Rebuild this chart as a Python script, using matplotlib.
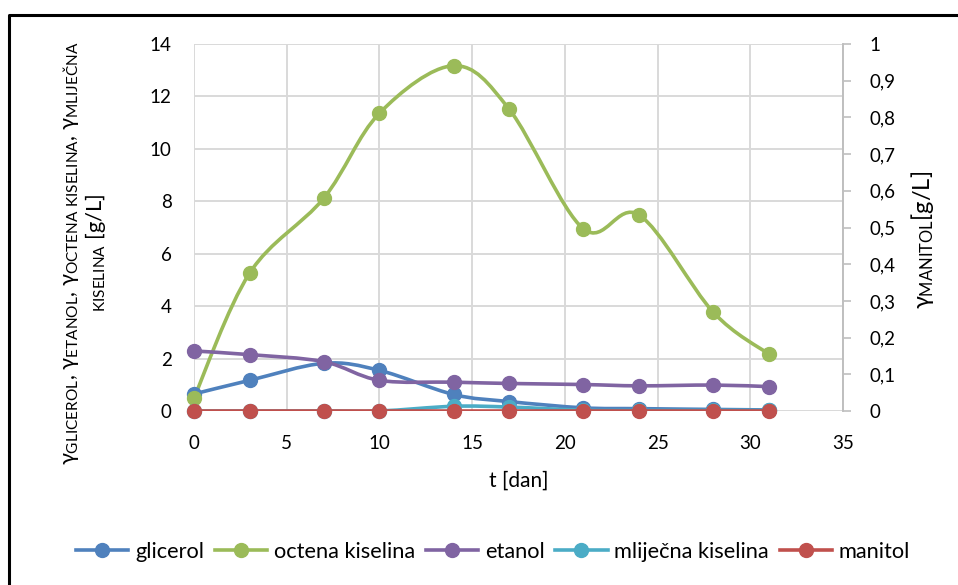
import matplotlib
matplotlib.use('Agg')
import matplotlib.pyplot as plt
from matplotlib.path import Path
from matplotlib.patches import PathPatch
from matplotlib.lines import Line2D
import numpy as np

plt.rcParams['font.family'] = ['Lato', 'DejaVu Sans']
plt.rcParams['mathtext.fontset'] = 'custom'
plt.rcParams['mathtext.rm'] = 'Lato'
plt.rcParams['mathtext.it'] = 'Lato'
plt.rcParams['mathtext.bf'] = 'Lato'

# data
t = [0, 3, 7, 10, 14, 17, 21, 24, 28, 31]
glicerol = [0.65, 1.17, 1.82, 1.55, 0.63, 0.36, 0.12, 0.09, 0.06, 0.04]
octena = [0.5, 5.26, 8.12, 11.36, 13.17, 11.51, 6.95, 7.48, 3.77, 2.17]
etanol = [2.29, 2.15, 1.88, 1.17, 1.10, 1.05, 1.01, 0.96, 0.99, 0.93]
mlijecna = [0, 0, 0, 0, 0.18, 0.15, 0.03, 0.02, 0.02, 0.02]
manitol = [0, 0, 0, 0, 0, 0, 0, 0, 0, 0]

names = ['glicerol', 'octena kiselina', 'etanol', 'mliječna kiselina', 'manitol']
colors = ['#4F81BD', '#9BBB59', '#8064A2', '#4BACC6', '#C0504D']


def smooth_path(x, y):
    # Excel-like smoothed line: Catmull-Rom segments as cubic Bezier
    p = np.column_stack([x, y]).astype(float)
    n = len(p)
    verts = [p[0]]
    codes = [Path.MOVETO]
    for i in range(n - 1):
        p0 = p[i - 1] if i > 0 else p[i]
        p3 = p[i + 2] if i + 2 < n else p[i + 1]
        c1 = p[i] + (p[i + 1] - p0) / 6
        c2 = p[i + 1] - (p3 - p[i]) / 6
        verts += [c1, c2, p[i + 1]]
        codes += [Path.CURVE4] * 3
    return Path(verts, codes)


def draw(ax, x, y, c):
    ax.add_patch(PathPatch(smooth_path(x, y), fill=False, edgecolor=c,
                           lw=2.6, capstyle='round', joinstyle='round', zorder=3))
    ax.plot(x, y, ls='none', marker='o', ms=10, color=c, zorder=4, clip_on=False)


fig = plt.figure(figsize=(9.58, 5.85), dpi=100)
ax = fig.add_axes([194 / 958, 1 - 411 / 585, (843 - 194) / 958, (411 - 44) / 585])
ax2 = ax.twinx()

for ys, c in zip([glicerol, octena, etanol, mlijecna], colors[:4]):
    draw(ax, t, ys, c)
draw(ax2, t, manitol, colors[4])

ax.set_xlim(0, 35)
ax.set_ylim(0, 14)
ax2.set_ylim(0, 1)
ax.set_xticks(range(0, 36, 5))
ax.set_yticks(range(0, 15, 2))
ax2.set_yticks(np.arange(0, 1.01, 0.1))
ax2.set_yticklabels(['0', '0,1', '0,2', '0,3', '0,4', '0,5', '0,6', '0,7', '0,8', '0,9', '1'])

ax.grid(True, color='#D9D9D9', lw=1.4)
ax.set_axisbelow(True)
for a in (ax, ax2):
    for s in ['top', 'left', 'bottom']:
        a.spines[s].set_visible(False)
ax.spines['right'].set_visible(False)
ax2.spines['right'].set_color('#BFBFBF')
ax2.spines['right'].set_linewidth(1.4)

ax.tick_params(axis='x', length=0, pad=17, labelsize=13.5)
ax.tick_params(axis='y', length=0, pad=16, labelsize=13.5)
ax2.tick_params(axis='y', length=6, width=1.2, color='#BFBFBF', direction='out', pad=13, labelsize=13.5)

ax.set_xlabel('t [dan]', fontsize=15, labelpad=14)

fig.text(85 / 958, 1 - 253 / 585,
         r'$γ_{\mathrm{GLICEROL}}$, $γ_{\mathrm{ETANOL}}$, $γ_{\mathrm{OCTENA\ KISELINA}}$, $γ_{\mathrm{MLIJEČNA}}$'
         '\n' r'${}_{\mathrm{KISELINA}}$ [g/L]',
         rotation=90, ha='center', va='center', multialignment='center', fontsize=15.8,
         linespacing=1.0)
fig.text(923 / 958, 1 - 240 / 585, r'$γ_{\mathrm{MANITOL}}$[g/L]',
         rotation=90, ha='center', va='center', fontsize=17)

handles = [Line2D([], [], color=c, lw=2.6, marker='o', ms=10) for c in colors]
fig.legend(handles, names, loc='center', bbox_to_anchor=(493 / 958, 1 - 552 / 585),
           ncol=5, frameon=False, fontsize=15.7, handlelength=2.4,
           handletextpad=0.3, columnspacing=0.5)

# chart border
fig.add_artist(Line2D([9 / 958, 9 / 958, 1.0], [-0.01, 1 - 15 / 585, 1 - 15 / 585],
                      transform=fig.transFigure, color='black', lw=2.2))

fig.savefig('out.png', dpi=100)
